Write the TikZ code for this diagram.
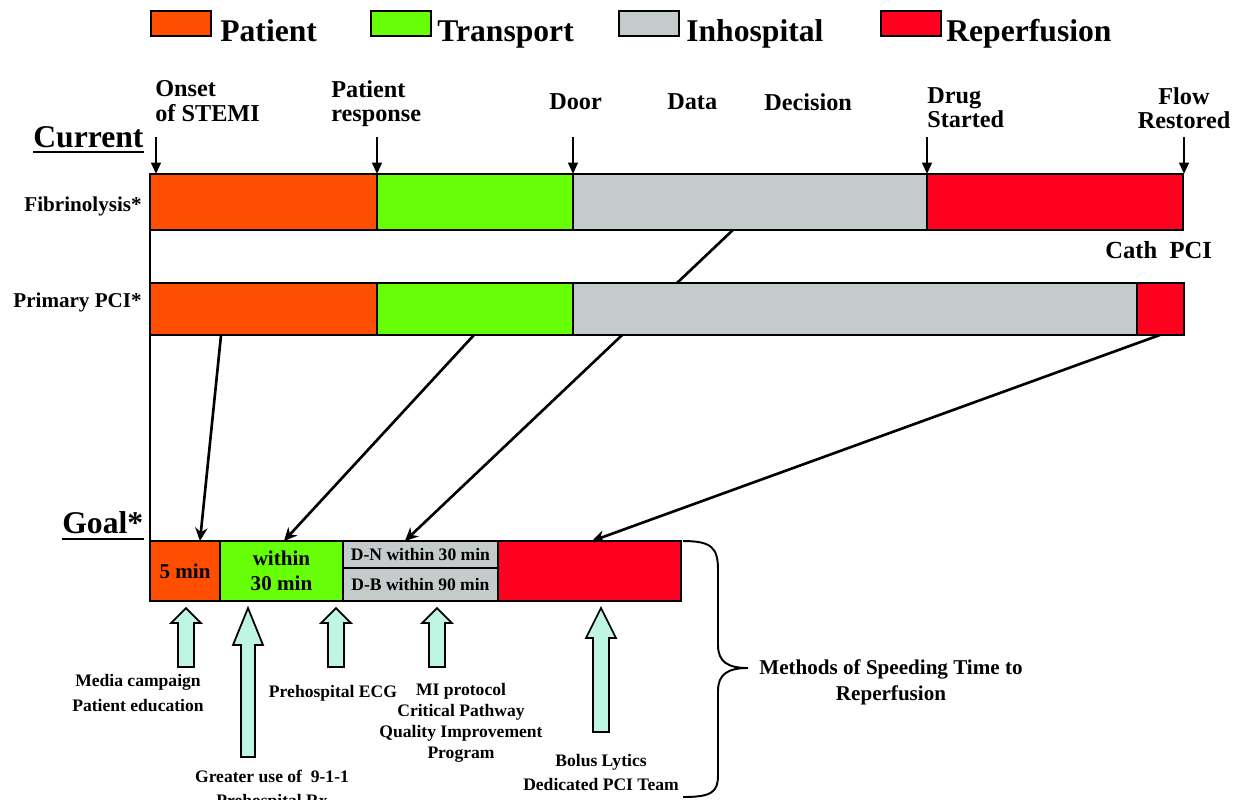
\documentclass[tikz,border=0pt]{standalone}
\usepackage{fontspec}
\setmainfont{Liberation Serif}
\usetikzlibrary{positioning,calc,arrows.meta,backgrounds}

\definecolor{patcol}{HTML}{FF4E00}
\definecolor{tracol}{HTML}{66FF08}
\definecolor{inhcol}{HTML}{C3CCCB}
\definecolor{repcol}{HTML}{FF0020}
\definecolor{liftcol}{HTML}{BFF5E3}

% block arrow under the goal bar: x, head base, bottom, half shaft
\newcommand{\liftarr}[4]{%
  \draw[liftarrow] (#1,608) -- (#1+15,#2) -- (#1+#4,#2) -- (#1+#4,#3)
    -- (#1-#4,#3) -- (#1-#4,#2) -- (#1-15,#2) -- cycle;}

\begin{document}
\begin{tikzpicture}[x=0.02cm, y=-0.02cm, font=\bfseries,
  segbox/.style={draw, line width=1.1pt, inner sep=0pt, outer sep=0pt},
  fibseg/.style={segbox, minimum height=1.12cm},
  pciseg/.style={segbox, minimum height=1.04cm},
  goalseg/.style={segbox, minimum height=1.2cm},
  legbox/.style={draw, line width=1.1pt, inner sep=0pt, minimum width=1.2cm, minimum height=0.5cm, anchor=north west},
  legtext/.style={inner sep=0pt, anchor=base west, font=\bfseries\fontsize{18}{20}\selectfont},
  headtext/.style={inner sep=0pt, anchor=base west, font=\bfseries\fontsize{18}{20}\selectfont},
  toplabel/.style={inner sep=0pt, anchor=north west, align=left, font=\bfseries\fontsize{13.8}{14}\selectfont},
  rowlabel/.style={inner sep=0pt, anchor=base east, font=\bfseries\fontsize{12}{14}\selectfont},
  notetext/.style={inner sep=0pt, align=center, font=\bfseries\fontsize{10}{13.6}\selectfont},
  downarrow/.style={-{Triangle[length=6.5pt,width=5.5pt]}, line width=1.3pt},
  feedline/.style={-{Stealth[length=7.5pt,width=7pt]}, line width=1.5pt},
  liftarrow/.style={draw, line width=1pt, fill=liftcol, line join=miter}]

\useasboundingbox (0,0) rectangle (1237,799);

% legend
\node[legbox, fill=patcol] (legPat) at (150,10) {};
\node[legtext] (legPatText) at (220,41) {Patient};
\node[legbox, fill=tracol] (legTra) at (370,10) {};
\node[legtext] (legTraText) at (437,41) {Transport};
\node[legbox, fill=inhcol] (legInh) at (618,10) {};
\node[legtext] (legInhText) at (686,41) {Inhospital};
\node[legbox, fill=repcol] (legRep) at (880,10) {};
\node[legtext] (legRepText) at (946,41) {Reperfusion};

% time points
\node[toplabel] (onset) at (155,80) {Onset\\of STEMI};
\node[toplabel] (response) at (331,80) {Patient\\response};
\node[toplabel] (door) at (549,93) {Door};
\node[toplabel] (data) at (667,93) {Data};
\node[toplabel] (decision) at (764,93) {Decision};
\node[toplabel] (drug) at (927,87) {Drug\\Started};
\node[toplabel, anchor=north, align=center] (flow) at (1184,87) {Flow\\Restored};

% headings
\node[headtext] (current) at (33,147) {Current};
\draw[line width=1.2pt] ([yshift=-3pt]current.base west) -- ([yshift=-3pt]current.base east);
\node[headtext] (goalhead) at (62,533) {Goal*};
\draw[line width=1.2pt] ([yshift=-3.4pt]goalhead.base west) -- ([yshift=-3.4pt]goalhead.base east);

% current rows
\node[rowlabel] (fibLab) at (142,211) {Fibrinolysis*};
\node[rowlabel] (pciLab) at (142,307) {Primary PCI*};

\node[fibseg, fill=patcol, minimum width=4.54cm, anchor=north west] (fibPat) at (150,174) {};
\node[fibseg, fill=tracol, minimum width=3.92cm, right=0pt of fibPat] (fibTra) {};
\node[fibseg, fill=inhcol, minimum width=7.08cm, right=0pt of fibTra] (fibInh) {};
\node[fibseg, fill=repcol, minimum width=5.12cm, right=0pt of fibInh] (fibRep) {};

\node[inner sep=0pt, anchor=base west, font=\bfseries\fontsize{14}{16}\selectfont] (cath) at (1105,258) {Cath\ \ PCI};

\node[pciseg, fill=patcol, minimum width=4.54cm, anchor=north west] (pciPat) at (150,283) {};
\node[pciseg, fill=tracol, minimum width=3.92cm, right=0pt of pciPat] (pciTra) {};
\node[pciseg, fill=inhcol, minimum width=11.28cm, right=0pt of pciTra] (pciInh) {};
\node[pciseg, fill=repcol, minimum width=0.94cm, right=0pt of pciInh] (pciRep) {};

% goal row
\node[goalseg, fill=patcol, minimum width=1.4cm, anchor=north west,
      font=\bfseries\fontsize{12}{14}\selectfont] (goalPat) at (150,541) {5 min};
\node[goalseg, fill=tracol, minimum width=2.46cm, right=0pt of goalPat, align=center,
      font=\bfseries\fontsize{12}{14}\selectfont] (goalTra) {within\\30 min};
\node[segbox, fill=inhcol, minimum width=3.1cm, minimum height=0.54cm, anchor=north west,
      font=\bfseries\fontsize{10}{12}\selectfont] (goalDN) at (goalTra.north east) {D-N within 30 min};
\node[segbox, fill=inhcol, minimum width=3.1cm, minimum height=0.66cm, below=0pt of goalDN,
      font=\bfseries\fontsize{10}{12}\selectfont] (goalDB) {D-B within 90 min};
\node[goalseg, fill=repcol, minimum width=3.66cm, anchor=north west] (goalRep) at (goalDN.north east) {};

% spine
\draw[line width=1.4pt] (fibPat.south west) -- (pciPat.north west)
  (pciPat.south west) -- (goalPat.north west);

% time point arrows
\foreach \x/\name in {156/tOnset, 377/tResp, 573/tDoor, 927/tDrug, 1184/tFlow} {
  \coordinate (\name) at (\x,137);
  \draw[downarrow] (\name) -- (\name |- fibPat.north);
}

% current -> goal
\draw[feedline] ($(pciPat.south west)!0.313!(pciPat.south east)$) -- ($(goalPat.north west)!0.714!(goalPat.north east)$);
\draw[feedline] ($(pciTra.south west)!0.495!(pciTra.south east)$) -- ($(goalTra.north west)!0.52!(goalTra.north east)$);
\draw[feedline] ($(pciRep.south west)!0.49!(pciRep.south east)$) -- ($(goalRep.north west)!0.514!(goalRep.north east)$);
\begin{scope}[on background layer]
\draw[feedline] ($(fibInh.south west)!0.452!(fibInh.south east)$) -- ($(goalDN.north west)!0.4!(goalDN.north east)$);
\end{scope}

% methods
\liftarr{186}{623}{667}{8}
\liftarr{248}{645}{757}{7}
\liftarr{336}{623}{667}{8}
\liftarr{437}{623}{667}{8}
\liftarr{601}{638}{732}{8}

\node[notetext, anchor=north, font=\bfseries\fontsize{10}{14}\selectfont] (media) at (138,674) {Media campaign\\Patient education};
\node[notetext, anchor=base] (ecg) at (333,697) {Prehospital ECG};
\node[notetext, anchor=north, font=\bfseries\fontsize{10}{12}\selectfont] (miprot) at (461,683) {MI protocol\\Critical Pathway\\Quality Improvement\\Program};
\node[notetext, anchor=north] (greater) at (272,770) {Greater use of\ \ 9-1-1\\Prehospital Rx};
\node[notetext, anchor=north] (bolus) at (601,754) {Bolus Lytics\\Dedicated PCI Team};

\draw[line width=1.1pt] (683,541) .. controls (712,541) and (718,548) .. (718,570) -- (718,645)
  .. controls (718,662) and (728,668) .. (748,668)
  .. controls (728,668) and (718,674) .. (718,691) -- (718,775)
  .. controls (718,792) and (712,797) .. (683,797);
\node[inner sep=0pt, anchor=north, align=center, font=\bfseries\fontsize{12}{14.7}\selectfont] (methods) at (891,659) {Methods of Speeding Time to\\Reperfusion};

\end{tikzpicture}
\end{document}
